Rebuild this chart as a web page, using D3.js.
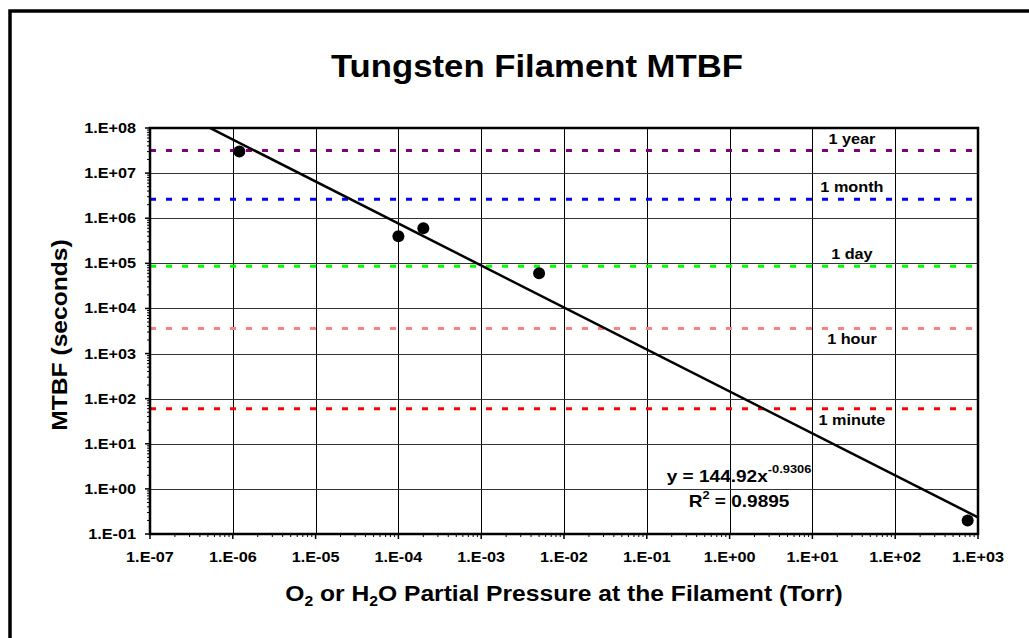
<!DOCTYPE html>
<html>
<head>
<meta charset="utf-8">
<script src="https://cdn.jsdelivr.net/npm/d3@7"></script>
<style>
  body { margin: 0; background: #fff; }
  text { font-family: Arial, "Liberation Sans", sans-serif; font-weight: bold; fill: #000; }
</style>
</head>
<body>
<div id="chart"></div>
<script>
// measured points (pressure in Torr, MTBF in seconds)
const pressure = [1.2e-6, 1e-4, 2e-4, 5e-3, 750];
const mtbf = [3e7, 4e5, 6e5, 6e4, 0.2];

// power-law trendline y = a * x^b
const fitA = 144.92;
const fitB = -0.9306;
const fitR2 = 0.9895;

// reference time spans
const refLabels = ["1 year", "1 month", "1 day", "1 hour", "1 minute"];
const refSeconds = [31557600, 2629800, 86400, 3600, 60];

// axis ticks
const xTicks = [1e-7, 1e-6, 1e-5, 1e-4, 1e-3, 1e-2, 1e-1, 1e0, 1e1, 1e2, 1e3];
const yTicks = [1e-1, 1e0, 1e1, 1e2, 1e3, 1e4, 1e5, 1e6, 1e7, 1e8];

const refColors = ["#800080", "#0000ff", "#00ff00", "#ff8080", "#ff0000"];
const refLabelAbove = [true, true, true, false, false];

const W = 1029, H = 638;
const plot = {left: 150, top: 128, right: 978, bottom: 534};
const width = plot.right - plot.left;
const height = plot.bottom - plot.top;
const stretch = 1.12; // the original text is a bit wider than Arial

const expFmt = (v) => {
  const e = Math.round(Math.log10(v));
  return "1.E" + (e < 0 ? "-" : "+") + String(Math.abs(e)).padStart(2, "0");
};
const place = (x, y, rot) =>
  "translate(" + x + "," + y + ")" + (rot ? " rotate(" + rot + ")" : "") + " scale(" + stretch + ",1)";

const svg = d3.select("#chart")
  .append("svg")
  .attr("width", W)
  .attr("height", H);

// outer chart frame
svg.append("rect")
  .attr("x", 10)
  .attr("y", 11)
  .attr("width", 1200)
  .attr("height", 800)
  .attr("fill", "none")
  .attr("stroke", "#000")
  .attr("stroke-width", 3.5);

// title
svg.append("text")
  .attr("transform", place(537, 77))
  .attr("text-anchor", "middle")
  .style("font-size", "31px")
  .text("Tungsten Filament MTBF");

const xScale = d3.scaleLog().domain([1e-7, 1e3]).range([0, width]);
const yScale = d3.scaleLog().domain([1e-1, 1e8]).range([height, 0]);

const g = svg.append("g")
  .attr("transform", "translate(" + plot.left + "," + plot.top + ")");

g.append("clipPath")
  .attr("id", "clip")
  .append("rect")
  .attr("width", width)
  .attr("height", height);

// gridlines
g.append("g")
  .selectAll("line")
  .data(xTicks)
  .join("line")
  .attr("x1", (d) => Math.round(xScale(d)) + 0.5)
  .attr("x2", (d) => Math.round(xScale(d)) + 0.5)
  .attr("y1", 0)
  .attr("y2", height)
  .attr("stroke", "#000")
  .attr("stroke-width", 1);

g.append("g")
  .selectAll("line")
  .data(yTicks)
  .join("line")
  .attr("x1", 0)
  .attr("x2", width)
  .attr("y1", (d) => Math.round(yScale(d)) + 0.5)
  .attr("y2", (d) => Math.round(yScale(d)) + 0.5)
  .attr("stroke", "#333")
  .attr("stroke-width", 1);

// reference lines
g.append("g")
  .selectAll("line")
  .data(refSeconds)
  .join("line")
  .attr("x1", 0)
  .attr("x2", width)
  .attr("y1", (d) => yScale(d))
  .attr("y2", (d) => yScale(d))
  .attr("stroke", (d, i) => refColors[i])
  .attr("stroke-width", 3)
  .attr("stroke-dasharray", "6,10");

const refLabelX = xScale(30);
g.append("g")
  .selectAll("text")
  .data(refLabels)
  .join("text")
  .attr("transform", (d, i) => place(refLabelX, yScale(refSeconds[i]) + (refLabelAbove[i] ? -7 : 16)))
  .attr("text-anchor", "middle")
  .style("font-size", "14.5px")
  .text((d) => d);

// trendline
g.append("line")
  .attr("clip-path", "url(#clip)")
  .attr("x1", xScale(1e-7))
  .attr("y1", yScale(fitA * Math.pow(1e-7, fitB)))
  .attr("x2", xScale(1e3))
  .attr("y2", yScale(fitA * Math.pow(1e3, fitB)))
  .attr("stroke", "#000")
  .attr("stroke-width", 2.5);

// data points
g.append("g")
  .selectAll("circle")
  .data(pressure)
  .join("circle")
  .attr("cx", (d) => xScale(d))
  .attr("cy", (d, i) => yScale(mtbf[i]))
  .attr("r", 6)
  .attr("fill", "#000");

// plot border
g.append("rect")
  .attr("width", width)
  .attr("height", height)
  .attr("fill", "none")
  .attr("stroke", "#000")
  .attr("stroke-width", 2.5);

// axes with minor ticks
const minor = (dom) => {
  const out = [];
  for (let e = Math.log10(dom[0]); e < Math.log10(dom[1]); e++) {
    for (let k = 2; k < 10; k++) out.push(k * Math.pow(10, e));
  }
  return out;
};

const xAxis = g.append("g")
  .attr("transform", "translate(0," + height + ")");
xAxis.selectAll(".minor")
  .data(minor(xScale.domain()))
  .join("line")
  .attr("x1", (d) => xScale(d))
  .attr("x2", (d) => xScale(d))
  .attr("y1", 0)
  .attr("y2", 3)
  .attr("stroke", "#000");
xAxis.selectAll(".major")
  .data(xTicks)
  .join("line")
  .attr("x1", (d) => xScale(d))
  .attr("x2", (d) => xScale(d))
  .attr("y1", 0)
  .attr("y2", 5)
  .attr("stroke", "#000")
  .attr("stroke-width", 1.5);
xAxis.selectAll("text")
  .data(xTicks)
  .join("text")
  .attr("transform", (d) => place(xScale(d), 28))
  .attr("text-anchor", "middle")
  .style("font-size", "14.5px")
  .text(expFmt);

const yAxis = g.append("g");
yAxis.selectAll(".minor")
  .data(minor(yScale.domain()))
  .join("line")
  .attr("x1", -3)
  .attr("x2", 0)
  .attr("y1", (d) => yScale(d))
  .attr("y2", (d) => yScale(d))
  .attr("stroke", "#000");
yAxis.selectAll(".major")
  .data(yTicks)
  .join("line")
  .attr("x1", -5)
  .attr("x2", 0)
  .attr("y1", (d) => yScale(d))
  .attr("y2", (d) => yScale(d))
  .attr("stroke", "#000")
  .attr("stroke-width", 1.5);
yAxis.selectAll("text")
  .data(yTicks)
  .join("text")
  .attr("transform", (d) => place(-14, yScale(d) + 5))
  .attr("text-anchor", "end")
  .style("font-size", "14.5px")
  .text(expFmt);

// axis titles
const xTitle = svg.append("text")
  .attr("transform", place(plot.left + width / 2, 601))
  .attr("text-anchor", "middle")
  .style("font-size", "22px");
xTitle.append("tspan").text("O");
xTitle.append("tspan").attr("dy", 5).style("font-size", "14px").text("2");
xTitle.append("tspan").attr("dy", -5).text(" or H");
xTitle.append("tspan").attr("dy", 5).style("font-size", "14px").text("2");
xTitle.append("tspan").attr("dy", -5).text("O Partial Pressure at the Filament (Torr)");

svg.append("text")
  .attr("transform", place(67, plot.top + height / 2 + 4, -90))
  .attr("text-anchor", "middle")
  .style("font-size", "22px")
  .text("MTBF (seconds)");

// trendline equation
const eqX = xScale(1.3);
const eq = g.append("text")
  .attr("transform", place(eqX, 354))
  .attr("text-anchor", "middle")
  .style("font-size", "17px");
eq.append("tspan").text("y = " + fitA + "x");
eq.append("tspan").attr("dy", -9).style("font-size", "11.5px").text(String(fitB));

const r2 = g.append("text")
  .attr("transform", place(eqX, 379))
  .attr("text-anchor", "middle")
  .style("font-size", "17px");
r2.append("tspan").text("R");
r2.append("tspan").attr("dy", -8).style("font-size", "11.5px").text("2");
r2.append("tspan").attr("dy", 8).text(" = " + fitR2);
</script>
</body>
</html>
